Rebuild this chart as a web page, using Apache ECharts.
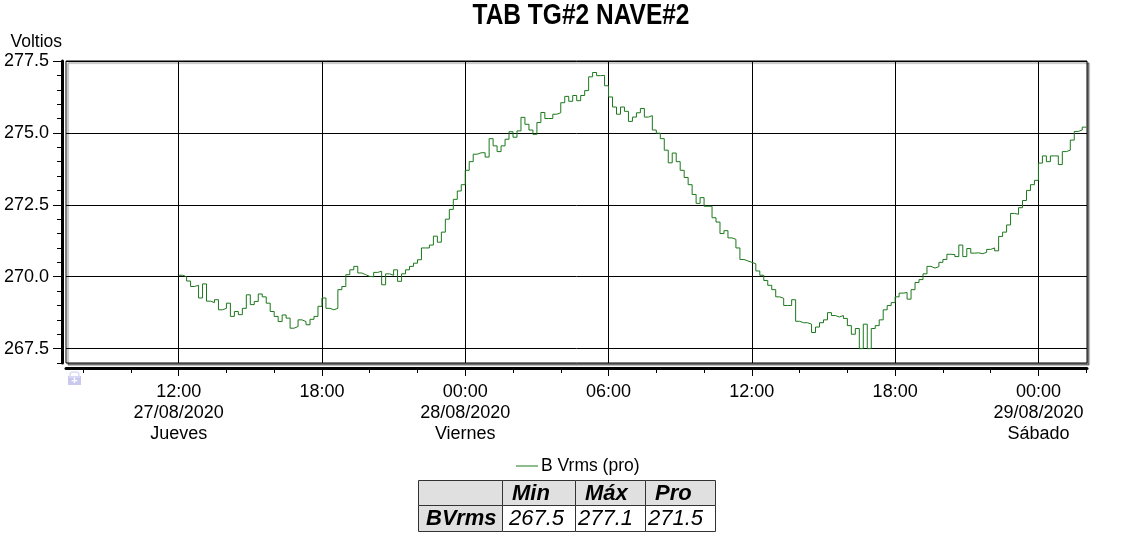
<!DOCTYPE html>
<html>
<head>
<meta charset="utf-8">
<title>TAB TG#2 NAVE#2</title>
<script src="https://cdn.jsdelivr.net/npm/echarts@6/dist/echarts.min.js"></script>
<style>
  html, body { margin: 0; padding: 0; background: #fff; }
  #chart { width: 1132px; height: 536px; }
</style>
</head>
<body>
<div id="chart"></div>
<script>
// B Vrms (pro), una muestra cada 10 min desde el 27/08/2020 12:00
const vrms27 = [
  270.05, 270.0, 269.85, 269.66, 269.7, 269.26,
  269.75, 269.15, 269.1, 269.2, 268.85, 268.9,
  269.08, 268.62, 268.79, 268.68, 268.9, 269.37,
  269.03, 269.14, 269.4, 269.3, 269.08, 268.79,
  268.62, 268.44, 268.67, 268.56, 268.21, 268.27,
  268.5, 268.44, 268.33, 268.52, 268.62, 268.97,
  269.26, 268.9, 268.85, 268.9, 269.55, 269.66,
  270.07, 270.24, 270.36, 270.13, 270.07, 270.01,
  270.0, 270.15, 270.19, 269.72, 270.1, 270.05,
  270.24, 269.84, 270.1, 270.24, 270.36, 270.47,
  270.59, 271.0, 271.0, 271.1, 271.41, 271.2,
  271.55, 272.0, 272.34, 272.69, 272.98, 273.2
];
const vrms28 = [
  273.7, 274.0, 274.26, 274.31, 274.31, 274.16,
  274.8, 274.55, 274.35, 274.55, 274.78, 275.04,
  274.85, 275.07, 275.54, 275.3, 275.1, 274.95,
  275.36, 275.71, 275.5, 275.5, 275.65, 275.7,
  276.05, 276.27, 276.1, 276.3, 276.12, 276.3,
  276.47, 276.95, 277.1, 276.99, 277.0, 276.64,
  276.25, 275.9, 275.65, 275.9, 275.75, 275.4,
  275.55, 275.7, 275.85, 275.55, 275.6, 275.1,
  274.99, 274.8, 274.4, 273.96, 274.3, 274.0,
  273.7, 273.45, 273.2, 272.86, 272.55, 272.75,
  272.45, 272.45, 272.05, 271.9, 271.5, 271.6,
  271.35, 271.3, 271.0, 270.6, 270.55, 270.5,
  270.45, 270.2, 270.05, 269.87, 269.7, 269.55,
  269.3, 269.25, 269.0, 269.0, 269.2, 268.45,
  268.4, 268.4, 268.35, 268.06, 268.25, 268.4,
  268.5, 268.75, 268.65, 268.6, 268.65, 268.55,
  268.3, 268.0, 268.2, 267.5, 268.35, 267.5,
  268.2, 268.3, 268.5, 268.85, 269.0, 269.1,
  269.3, 269.43, 269.45, 269.22, 269.55, 269.8,
  269.9, 270.1, 270.36, 270.3, 270.35, 270.5,
  270.6, 270.78, 270.77, 270.7, 271.1, 270.7,
  270.98, 270.82, 270.83, 270.8, 270.85, 270.95,
  271.0, 270.9, 271.4, 271.55, 271.8, 272.2,
  272.17, 272.4, 272.65, 273.0, 273.2, 273.35
];
const vrms29 = [
  273.95, 274.2, 274.0, 274.2, 274.2, 273.9,
  274.35, 274.4, 274.75, 275.05, 275.1, 275.2,
  275.2
];

const startTime = '2020-08-27 12:00';
const stepMinutes = 10;

// ejes
const xMin = '2020-08-27 07:17';
const xMax = '2020-08-29 02:02';
const xMajorTicks = [
  '2020-08-27 12:00', '2020-08-27 18:00', '2020-08-28 00:00', '2020-08-28 06:00',
  '2020-08-28 12:00', '2020-08-28 18:00', '2020-08-29 00:00'
];
const xMinorTicks = [
  '2020-08-27 08:00', '2020-08-27 10:00', '2020-08-27 12:00', '2020-08-27 14:00',
  '2020-08-27 16:00', '2020-08-27 18:00', '2020-08-27 20:00', '2020-08-27 22:00',
  '2020-08-28 00:00', '2020-08-28 02:00', '2020-08-28 04:00', '2020-08-28 06:00',
  '2020-08-28 08:00', '2020-08-28 10:00', '2020-08-28 12:00', '2020-08-28 14:00',
  '2020-08-28 16:00', '2020-08-28 18:00', '2020-08-28 20:00', '2020-08-28 22:00',
  '2020-08-29 00:00', '2020-08-29 02:00'
];
const yMajorTicks = [267.5, 270.0, 272.5, 275.0, 277.5];
const yMinorTicks = [
  267.0, 267.5, 268.0, 268.5, 269.0, 269.5, 270.0, 270.5, 271.0, 271.5, 272.0,
  272.5, 273.0, 273.5, 274.0, 274.5, 275.0, 275.5, 276.0, 276.5, 277.0, 277.5
];
const dayNames = ['Domingo', 'Lunes', 'Martes', 'Miércoles', 'Jueves', 'Viernes', 'Sábado'];

// tabla resumen
const tableHeader = ['Min', 'Máx', 'Pro'];
const tableRowName = 'BVrms';
const tableValues = [267.5, 277.1, 271.5];

const FONT = '"Liberation Sans", Arial, sans-serif';
const lineColor = '#1c781c';

function pad2(n) { return (n < 10 ? '0' : '') + n; }

// 'YYYY-MM-DD HH:mm' -> ms (hora local)
function toTime(s) {
  const [d, t] = s.split(' ');
  const [y, m, day] = d.split('-').map(Number);
  const [hh, mm] = t.split(':').map(Number);
  return new Date(y, m - 1, day, hh, mm).getTime();
}

function buildSeriesData() {
  const values = vrms27.concat(vrms28, vrms29);
  const t0 = toTime(startTime);
  return values.map((v, i) => [t0 + i * stepMinutes * 60000, v]);
}

function buildTable() {
  const colX = [418, 502, 575, 645, 715];
  const rowY = [480, 505, 531];
  const valueInset = [7, 3, 3];
  const children = [];
  for (let r = 0; r < 2; r++) {
    for (let c = 0; c < 4; c++) {
      children.push({
        type: 'rect',
        shape: {
          x: colX[c] + 0.5, y: rowY[r] + 0.5,
          width: colX[c + 1] - colX[c], height: rowY[r + 1] - rowY[r]
        },
        style: { fill: (r === 0 || c === 0) ? '#e0e0e0' : '#fff', stroke: '#333', lineWidth: 1 }
      });
    }
  }
  const midY = (r) => (rowY[r] + rowY[r + 1]) / 2 + 1;
  tableHeader.forEach((h, i) => {
    children.push({
      type: 'text',
      style: {
        text: h, x: colX[i + 1] + 10, y: midY(0),
        font: 'italic bold 22px ' + FONT, fill: '#000',
        align: 'left', verticalAlign: 'middle'
      }
    });
  });
  children.push({
    type: 'text',
    style: {
      text: tableRowName, x: colX[0] + 8, y: midY(1),
      font: 'italic bold 22px ' + FONT, fill: '#000',
      align: 'left', verticalAlign: 'middle'
    }
  });
  tableValues.forEach((v, i) => {
    children.push({
      type: 'text',
      style: {
        text: v.toFixed(1), x: colX[i + 1] + valueInset[i], y: midY(1),
        font: 'italic 22px ' + FONT, fill: '#000',
        align: 'left', verticalAlign: 'middle'
      }
    });
  });
  return { type: 'group', silent: true, children };
}

function initChart() {
  const chart = echarts.init(document.getElementById('chart'), null, { renderer: 'canvas' });
  const xMinT = toTime(xMin);
  const xMaxT = toTime(xMax);
  const xMajorT = xMajorTicks.map(toTime);
  const option = {
    animation: false,
    backgroundColor: '#fff',
    legend: {
      data: [{ name: 'B Vrms (pro)', icon: 'rect' }],
      left: 511,
      top: 452,
      itemWidth: 22,
      itemHeight: 1,
      itemGap: 4,
      textStyle: { fontFamily: FONT, fontSize: 17.5, color: '#000', padding: [0, 0, 0, -2] }
    },
    grid: {
      left: 66,
      right: 45,
      top: 61,
      bottom: 173,
      show: true,
      backgroundColor: '#fff',
      borderColor: '#000',
      borderWidth: 1,
      shadowColor: 'rgba(0,0,0,0.45)',
      shadowBlur: 1,
      shadowOffsetX: 2,
      shadowOffsetY: 2
    },
    xAxis: [
      {
        type: 'value',
        position: 'bottom',
        min: xMinT,
        max: xMaxT,
        offset: 5,
        axisLine: { show: true, onZero: false, lineStyle: { color: '#000', width: 3 } },
        axisTick: { show: true, customValues: xMajorT, length: 8, lineStyle: { color: '#000', width: 1 } },
        axisLabel: {
          customValues: xMajorT,
          margin: 14,
          color: '#000',
          fontFamily: FONT,
          fontSize: 18,
          lineHeight: 21,
          formatter: function (value) {
            const d = new Date(value);
            const hh = pad2(d.getHours()) + ':' + pad2(d.getMinutes());
            if (value === xMajorT[0] || d.getHours() === 0) {
              const date = pad2(d.getDate()) + '/' + pad2(d.getMonth() + 1) + '/' + d.getFullYear();
              return hh + '\n' + date + '\n' + dayNames[d.getDay()];
            }
            return hh;
          }
        },
        splitLine: { show: true, lineStyle: { color: '#000', width: 1 } }
      },
      {
        type: 'value',
        position: 'bottom',
        min: xMinT,
        max: xMaxT,
        offset: 5,
        axisLine: { show: false, onZero: false },
        axisTick: { show: true, customValues: xMinorTicks.map(toTime), length: 5, lineStyle: { color: '#000', width: 1 } },
        axisLabel: { show: false },
        splitLine: { show: false }
      }
    ],
    yAxis: [
      {
        type: 'value',
        position: 'left',
        min: 267,
        max: 277.5,
        offset: 4,
        name: 'Voltios',
        nameLocation: 'end',
        nameGap: 10,
        nameTextStyle: { fontFamily: FONT, fontSize: 17.5, color: '#000', align: 'right' },
        axisLine: { show: true, onZero: false, lineStyle: { color: '#000', width: 3 } },
        axisTick: { show: true, customValues: yMajorTicks, length: 9, lineStyle: { color: '#000', width: 1 } },
        axisLabel: {
          customValues: yMajorTicks,
          margin: 13,
          color: '#000',
          fontFamily: FONT,
          fontSize: 18,
          formatter: (v) => Number(v).toFixed(1)
        },
        splitLine: { show: true, lineStyle: { color: '#000', width: 1 } }
      },
      {
        type: 'value',
        position: 'left',
        min: 267,
        max: 277.5,
        offset: 4,
        axisLine: { show: false, onZero: false },
        axisTick: { show: true, customValues: yMinorTicks, length: 5, lineStyle: { color: '#000', width: 1 } },
        axisLabel: { show: false },
        splitLine: { show: false }
      }
    ],
    series: [
      {
        name: 'B Vrms (pro)',
        type: 'line',
        step: 'end',
        xAxisIndex: 0,
        yAxisIndex: 0,
        symbol: 'none',
        lineStyle: { color: lineColor, width: 1 },
        itemStyle: { color: lineColor },
        data: buildSeriesData()
      }
    ],
    graphic: [
      {
        // titulo en letra estrecha
        type: 'text',
        silent: true,
        x: 581,
        y: 16,
        scaleX: 0.845,
        style: {
          text: 'TAB TG#2 NAVE#2',
          x: 0, y: 0,
          font: 'bold 29px ' + FONT,
          fill: '#000',
          align: 'center',
          verticalAlign: 'middle'
        }
      },
      {
        type: 'group',
        silent: true,
        children: [
          { type: 'rect', shape: { x: 68, y: 376, width: 13, height: 9 }, style: { fill: '#c8c8f0' } },
          { type: 'rect', shape: { x: 70, y: 372, width: 9, height: 5, r: [3, 3, 0, 0] }, style: { fill: 'none', stroke: '#dcdcf6', lineWidth: 1.5 } },
          { type: 'text', style: { text: '+', x: 74.5, y: 381, font: 'bold 11px ' + FONT, fill: '#fff', align: 'center', verticalAlign: 'middle' } }
        ]
      },
      buildTable()
    ]
  };
  chart.setOption(option);
  return chart;
}

initChart();
</script>
</body>
</html>
